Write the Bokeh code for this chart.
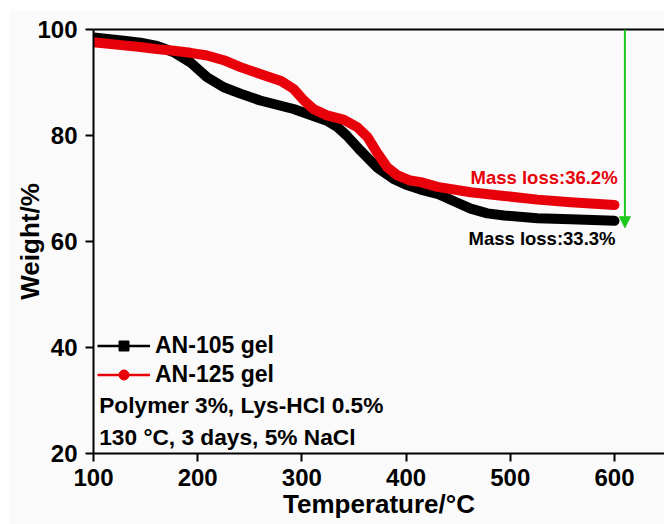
from bokeh.plotting import figure
from bokeh.models import (Range1d, Legend, LegendItem, Label, Arrow, NormalHead,
                          FixedTicker, LinearAxis, ColumnDataSource)
from bokeh.embed import file_html
from bokeh.resources import INLINE

# ---- data ----
t_105 = [100, 129, 145, 161, 177, 193, 209, 225, 241, 260, 292, 324, 334, 343, 356,
         372, 388, 400, 414, 430, 446, 462, 478, 494, 526, 558, 600]
w_105 = [98.5, 97.9, 97.5, 96.9, 95.7, 93.8, 91.0, 89.1, 87.9, 86.6, 85.0, 82.8, 81.6,
         80.0, 77.2, 74.0, 71.8, 70.7, 69.8, 69.0, 67.6, 66.2, 65.3, 64.9, 64.4, 64.2, 63.9]
t_125 = [100, 129, 145, 161, 177, 193, 209, 225, 241, 260, 280, 292, 302, 311, 324,
         340, 353, 363, 372, 382, 391.5, 404, 414, 430, 462, 494, 526, 558, 600]
w_125 = [97.6, 97.0, 96.7, 96.3, 96.0, 95.6, 95.1, 94.2, 92.9, 91.6, 90.3, 88.8, 86.6,
         85.0, 83.8, 83.0, 81.6, 79.7, 76.8, 74.0, 72.5, 71.5, 71.2, 70.3, 69.3, 68.6,
         67.9, 67.4, 66.9]
x_ticks = [100, 200, 300, 400, 500, 600]
y_ticks = [20, 40, 60, 80, 100]
series_names = ["AN-105 gel", "AN-125 gel"]
loss_texts = ["Mass loss:36.2%", "Mass loss:33.3%"]
loss_x = [603, 601]
loss_y = [72.1, 60.6]
arrow_x = 610
arrow_y0 = 100
arrow_y1 = 62.6
notes = ["Polymer 3%, Lys-HCl 0.5%", "130 °C, 3 days, 5% NaCl"]
notes_x = 105.5
notes_y = [29.2, 23.2]

FONT = "Liberation Sans"
RED = "#e8000b"
BG = "#fafafa"

p = figure(width=655, height=514, x_range=Range1d(100, 648), y_range=Range1d(20, 100),
           output_backend="svg", toolbar_location=None,
           min_border_left=84, min_border_right=0, min_border_top=19, min_border_bottom=71,
           background_fill_color=BG, border_fill_color=BG)
p.margin = (10, 0, 0, 9)
p.grid.visible = False
p.outline_line_color = None

p.xaxis.ticker = FixedTicker(ticks=x_ticks)
p.yaxis.ticker = FixedTicker(ticks=y_ticks)
for ax in (p.xaxis[0], p.yaxis[0]):
    ax.axis_line_width = 2
    ax.axis_line_color = "black"
    ax.major_tick_line_color = "black"
    ax.major_tick_line_width = 2
    ax.major_tick_in = 0
    ax.major_tick_out = 8
    ax.minor_tick_line_color = None
    ax.major_label_text_font = FONT
    ax.major_label_text_font_style = "bold"
    ax.major_label_text_font_size = "24px"
    ax.major_label_text_color = "black"
    ax.axis_label_text_font = FONT
    ax.axis_label_text_font_style = "bold"
    ax.axis_label_text_font_size = "26px"
    ax.axis_label_text_color = "black"
p.xaxis.major_label_standoff = 7
p.yaxis.major_label_standoff = 8
p.xaxis.axis_label = "Temperature/°C"
p.yaxis.axis_label = "Weight/%"
p.xaxis.axis_label_standoff = 0
p.yaxis.axis_label_standoff = -11

top = LinearAxis(ticker=FixedTicker(ticks=[]), axis_line_width=2, axis_line_color="black",
                 major_tick_line_color=None, minor_tick_line_color=None)
p.add_layout(top, "above")

p.line(t_105, w_105, line_width=10, color="black", line_cap="round", line_join="round")
p.line(t_125, w_125, line_width=10, color=RED, line_cap="round", line_join="round")

# legend proxies (no visible data)
nan = float("nan")
src1 = ColumnDataSource(data=dict(x=[nan], y=[nan]))
src2 = ColumnDataSource(data=dict(x=[nan], y=[nan]))
l1 = p.line("x", "y", source=src1, color="black", line_width=2.5)
s1 = p.scatter("x", "y", source=src1, marker="square", size=8, color="black")
l2 = p.line("x", "y", source=src2, color=RED, line_width=2.5)
s2 = p.scatter("x", "y", source=src2, marker="circle", size=9, color=RED)
legend = Legend(items=[LegendItem(label=series_names[0], renderers=[l1, s1]),
                       LegendItem(label=series_names[1], renderers=[l2, s2])],
                location=(4, 65), glyph_width=53, glyph_height=25, label_height=25,
                spacing=2, padding=0, margin=0, label_standoff=5,
                background_fill_alpha=0, border_line_color=None,
                label_text_font=FONT, label_text_font_style="bold",
                label_text_font_size="23px", label_text_color="black")
p.add_layout(legend)

for txt, ny in zip(notes, notes_y):
    p.add_layout(Label(x=notes_x, y=ny, text=txt, text_font=FONT, text_font_style="bold",
                       text_font_size="22.7px", text_baseline="middle", text_color="black"))

for txt, lx, ly, c in zip(loss_texts, loss_x, loss_y, [RED, "black"]):
    p.add_layout(Label(x=lx, y=ly, text=txt, text_font=FONT, text_font_style="bold",
                       text_font_size="18.5px", text_align="right", text_baseline="middle",
                       text_color=c))

GREEN = "#1ec81e"
p.add_layout(Arrow(x_start=arrow_x, y_start=arrow_y0, x_end=arrow_x, y_end=arrow_y1,
                   line_color=GREEN, line_width=2,
                   end=NormalHead(size=11, fill_color=GREEN, line_color=GREEN)))

open("out.html", "w").write(file_html(p, INLINE))
